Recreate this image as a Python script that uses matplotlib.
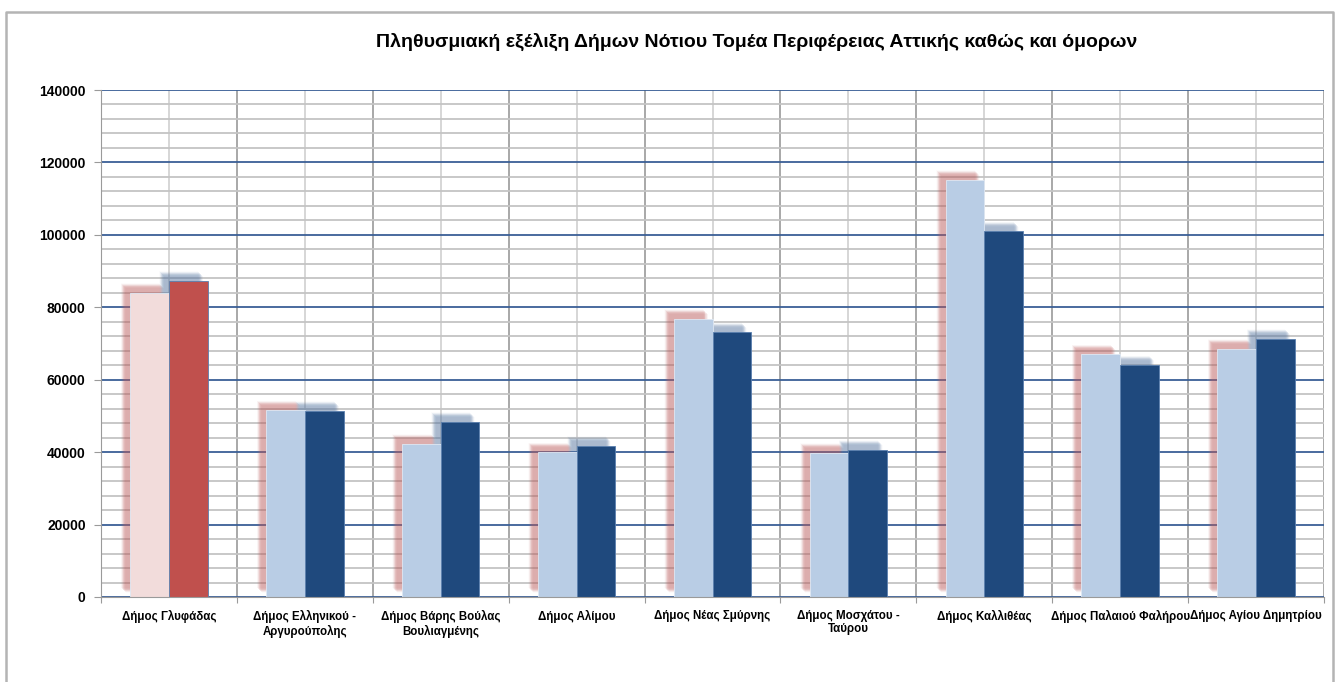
import numpy as np
import matplotlib
matplotlib.use("Agg")
import matplotlib.pyplot as plt
from matplotlib.lines import Line2D
from matplotlib.ticker import MultipleLocator

plt.rcParams['font.family'] = ['Liberation Sans', 'DejaVu Sans']

municipalities = [
    "Δήμος Γλυφάδας",
    "Δήμος Ελληνικού -\nΑργυρούπολης",
    "Δήμος Βάρης Βούλας\nΒουλιαγμένης",
    "Δήμος Αλίμου",
    "Δήμος Νέας Σμύρνης",
    "Δήμος Μοσχάτου -\nΤαύρου",
    "Δήμος Καλλιθέας",
    "Δήμος Παλαιού Φαλήρου",
    "Δήμος Αγίου Δημητρίου",
]
pop_2001 = [84000, 51500, 42300, 40000, 76800, 39800, 115200, 67100, 68500]
pop_2011 = [87300, 51400, 48400, 41700, 73100, 40600, 101000, 64000, 71300]

light_cols = ['#f2dcdb'] + ['#b9cde5'] * 8
dark_cols = ['#c0504d'] + ['#1f497d'] * 8

W, H = 1336, 682
fig = plt.figure(figsize=(W / 100, H / 100), dpi=100)
ax = fig.add_axes([101 / W, 1 - 597 / H, (1324 - 101) / W, (597 - 90) / H])

x = np.arange(len(municipalities))
bw = 0.285
ymax = 140000

# soft shadow, shifted about 7px up-left, built from thin translucent layers
px_x = len(municipalities) / (1324 - 101)
px_y = ymax / (597 - 90)
for k in np.linspace(-2.5, 2.5, 11):
    dx = (7 + k) * px_x
    dy = (7 + k) * px_y
    a = 0.1 * (1 - abs(k) / 3.2)
    ax.bar(x - bw / 2 - dx, pop_2001, bw, bottom=dy,
           color='#c06060', alpha=a, zorder=1.5, linewidth=0, antialiased=False)
    ax.bar(x + bw / 2 - dx, pop_2011, bw, bottom=dy,
           color='#5a7aa5', alpha=a, zorder=1.5, linewidth=0, antialiased=False)

ax.bar(x - bw / 2, pop_2001, bw, color=light_cols, zorder=2,
       edgecolor='#dfe8f3', linewidth=0.6)
ax.bar(x + bw / 2, pop_2011, bw, color=dark_cols, zorder=2,
       edgecolor='#5a7fae', linewidth=0.6)

ax.set_xlim(-0.5, len(municipalities) - 0.5)
ax.set_ylim(0, ymax)

ax.set_axisbelow(True)
ax.yaxis.set_major_locator(MultipleLocator(20000))
ax.yaxis.set_minor_locator(MultipleLocator(4000))
ax.grid(which='minor', axis='y', color='#c4c4c4', linewidth=1.3)
ax.grid(which='major', axis='y', color='#3a5f96', linewidth=1.3)

ax.set_xticks(np.arange(len(municipalities) + 1) - 0.5)
ax.set_xticks(x, minor=True)
ax.set_xticklabels([''] * (len(municipalities) + 1))
ax.set_xticklabels(municipalities, minor=True, fontsize=8.3, fontweight='bold',
                   linespacing=1.2, va='top')
ax.grid(which='major', axis='x', color='#9a9a9a', linewidth=1.2)
ax.grid(which='minor', axis='x', color='#d0d0d0', linewidth=1.2)
ax.tick_params(axis='x', which='minor', length=0, pad=9)
ax.tick_params(axis='x', which='major', length=4, color='#9a9a9a', direction='out')
ax.tick_params(axis='y', which='major', length=5, color='#9a9a9a', labelsize=10, pad=6)
ax.tick_params(axis='y', which='minor', length=0)
for lab in ax.get_yticklabels():
    lab.set_fontweight('bold')

for s in ['top', 'right']:
    ax.spines[s].set_visible(False)
ax.spines['left'].set_color('#9a9a9a')
ax.spines['bottom'].set_color('#9a9a9a')

fig.text(757 / W, 1 - 42 / H,
         'Πληθυσμιακή εξέλιξη Δήμων Νότιου Τομέα Περιφέρειας Αττικής καθώς και όμορων',
         ha='center', va='center', fontsize=14, fontweight='bold')

# outer chart frame (left, top, right)
fig.add_artist(Line2D([6 / W, 6 / W, 1333 / W, 1333 / W],
                      [0, 1 - 12 / H, 1 - 12 / H, 0],
                      transform=fig.transFigure, color='#b4b4b4', linewidth=1.8))

fig.savefig('out.png', dpi=100)
